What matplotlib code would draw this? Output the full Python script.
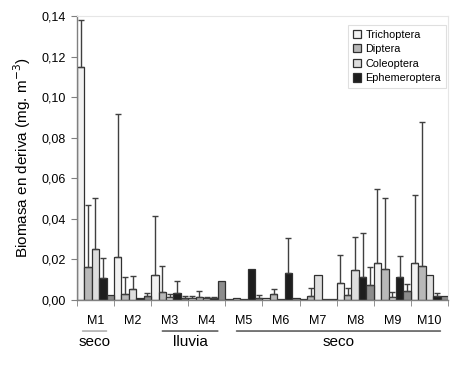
import matplotlib
matplotlib.use("Agg")
import matplotlib.pyplot as plt
import numpy as np

plt.rcParams['font.family'] = ['Liberation Sans', 'DejaVu Sans']

categories = ["M1", "M2", "M3", "M4", "M5", "M6", "M7", "M8", "M9", "M10"]
series_names = ["Trichoptera", "Diptera", "Coleoptera", "Ephemeroptera"]

trichoptera = [0.115, 0.021, 0.0123, 0.0012, 0.0003, 0.0008, 0.0003, 0.0082, 0.0181, 0.0181]
trichoptera_sd = [0.023, 0.0707, 0.0292, 0.0008, 0.0, 0.0, 0.0, 0.0138, 0.0366, 0.0339]
diptera = [0.0164, 0.0028, 0.0041, 0.0015, 0.0008, 0.0028, 0.002, 0.0025, 0.0153, 0.0169]
diptera_sd = [0.0306, 0.0087, 0.0127, 0.0029, 0.0, 0.0025, 0.0039, 0.0033, 0.0348, 0.071]
coleoptera = [0.0251, 0.0053, 0.0016, 0.0008, 0.0003, 0.0003, 0.0123, 0.0148, 0.0016, 0.0122]
coleoptera_sd = [0.0253, 0.0065, 0.0014, 0.0005, 0.0, 0.0, 0.0, 0.0164, 0.0022, 0.0]
ephemeroptera = [0.0108, 0.0008, 0.0036, 0.001, 0.0155, 0.0131, 0.0003, 0.0112, 0.0112, 0.0022]
ephemeroptera_sd = [0.0101, 0.0, 0.0059, 0.0005, 0.0, 0.0176, 0.0, 0.0217, 0.0105, 0.0011]
otros = [0.0025, 0.002, 0.001, 0.0095, 0.001, 0.0012, 0.0003, 0.0072, 0.0046, 0.0021]
otros_sd = [0.0, 0.0013, 0.0011, 0.0, 0.0015, 0.0, 0.0, 0.0092, 0.0031, 0.0]

yticks = [0.0, 0.02, 0.04, 0.06, 0.08, 0.10, 0.12, 0.14]
ytick_labels = ["0,00", "0,02", "0,04", "0,06", "0,08", "0,10", "0,12", "0,14"]

groups = [("seco", 0, 0), ("lluvia", 2, 3), ("seco", 4, 9)]

colors = ["#f2f2f2", "#b8b8b8", "#dedede", "#1e1e1e", "#8c8c8c"]

fig = plt.figure(figsize=(4.58, 3.75), dpi=100)
ax = fig.add_axes([0.168, 0.2, 0.81, 0.757])

x = np.arange(len(categories))
all_vals = [trichoptera, diptera, coleoptera, ephemeroptera, otros]
all_sd = [trichoptera_sd, diptera_sd, coleoptera_sd, ephemeroptera_sd, otros_sd]
labels = series_names + [None]
n = len(all_vals)
w = 1.0 / n
for i, (vals, sd, c, lab) in enumerate(zip(all_vals, all_sd, colors, labels)):
    pos = x - 0.5 + w * (i + 0.5)
    ax.bar(pos, vals, width=w, color=c, edgecolor="#303030", linewidth=0.9,
           label=lab, zorder=2)
    sd_arr = np.array(sd)
    mask = sd_arr > 0
    ax.errorbar(pos[mask], np.array(vals)[mask],
                yerr=[np.zeros(mask.sum()), sd_arr[mask]],
                fmt="none", ecolor="#404040", elinewidth=1.0, capsize=2.5,
                capthick=1.0, zorder=3)

ax.set_xlim(-0.5, len(categories) - 0.5)
ax.set_ylim(0, 0.14)
ax.set_yticks(yticks)
ax.set_yticklabels(ytick_labels, fontsize=9)
ax.set_xticks(x)
ax.set_xticklabels(categories, fontsize=9)
ax.tick_params(axis="x", length=0, pad=11)
ax.set_xticks(np.arange(-0.5, len(categories), 1.0), minor=True)
ax.tick_params(axis="x", which="minor", length=4, color="#808080")
ax.tick_params(axis="y", length=4, color="#808080", pad=4)

for s in ["top", "right"]:
    ax.spines[s].set_color("#e6e6e6")
    ax.spines[s].set_linewidth(0.8)
for s in ["left", "bottom"]:
    ax.spines[s].set_color("#808080")
    ax.spines[s].set_linewidth(1.0)

ax.set_ylabel("Biomasa en deriva (mg. m$^{-3}$)", fontsize=11, labelpad=6)

# group annotations
line_y = -0.0153
text_y = -0.0175
for name, a, b in groups:
    x0 = a - 0.35 if a == b else a - 0.2
    x1 = b + 0.3 if a == b else b + 0.3
    line_color = "#a0a0a0" if a == b else "#404040"
    ax.annotate("", xy=(x0, line_y), xytext=(x1, line_y),
                xycoords=("data", "data"),
                arrowprops=dict(arrowstyle="-", color=line_color, lw=1.0,
                                shrinkA=0, shrinkB=0),
                annotation_clip=False)
    ax.text((x0 + x1) / 2, text_y, name, ha="center", va="top", fontsize=11,
            clip_on=False)

leg = ax.legend(loc="upper right", bbox_to_anchor=(0.995, 0.97), fontsize=7.8,
                frameon=True, fancybox=False, edgecolor="#d8d8d8",
                handlelength=0.8, handleheight=0.8, handletextpad=0.4,
                borderpad=0.45, labelspacing=0.42, borderaxespad=0)
leg.get_frame().set_linewidth(0.8)

fig.savefig("out.png", dpi=100)
